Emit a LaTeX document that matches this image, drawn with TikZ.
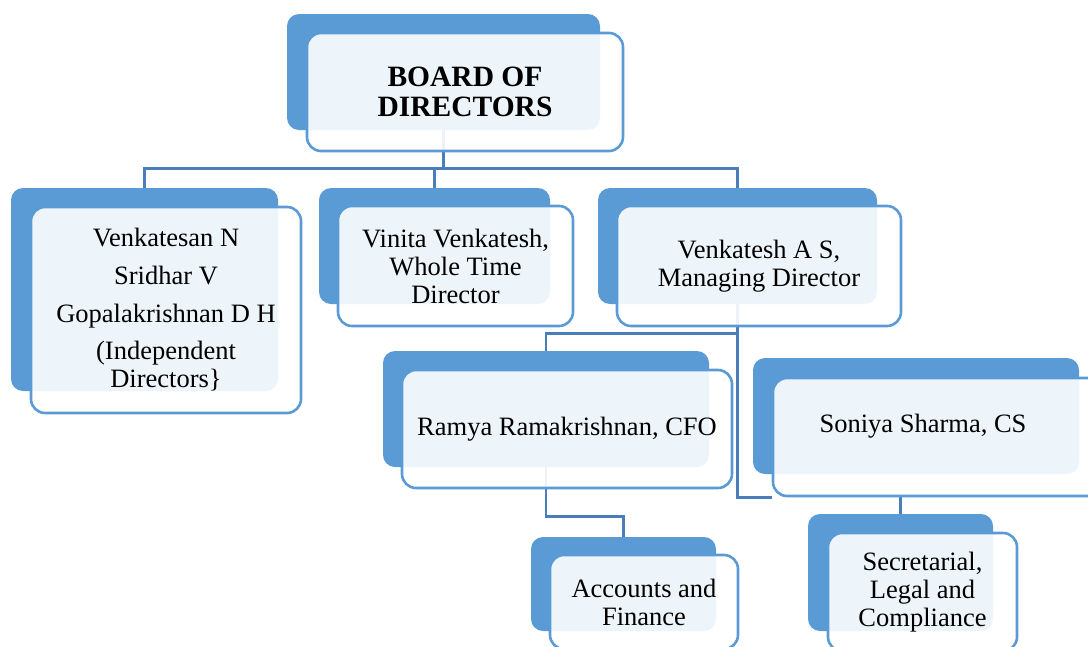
\documentclass[tikz,border=0pt]{standalone}
\usepackage{fontspec}
\setmainfont{Liberation Serif}
\usepackage{tikz}
\usetikzlibrary{backgrounds}
\definecolor{mblue}{HTML}{5B9BD5}
\definecolor{mline}{HTML}{4A7EBB}
\tikzset{back/.style = {rectangle, rounded corners=12pt, fill=mblue, inner sep=0pt},
         front/.style = {rectangle, rounded corners=14pt, draw=mblue, line width=2.6pt,
                         fill=white, fill opacity=0.9, text opacity=1, inner sep=0pt,
                         align=center, font=\fontsize{26.5}{28}\selectfont},
         conn/.style = {draw=mline, line width=2.8pt}}

\begin{document}
\begin{tikzpicture}[x=1pt, y=-1pt]
      \useasboundingbox (0, 0) rectangle (1088, 646);
      \clip (0, 0) rectangle (1088, 646);
      % top
      \node [back, minimum width=313, minimum height=116] (board-b) at (443.5, 72) {};
      \node [front, minimum width=316, minimum height=118,
             font=\fontsize{29.5}{30}\selectfont\bfseries] (board) at (465, 92) {BOARD OF\\DIRECTORS};
      % second row
      \node [back, minimum width=267, minimum height=203] (indep-b) at (144.5, 289.5) {};
      \node [front, minimum width=270, minimum height=206] (indep) at (166, 310)
            {Venkatesan N\\[10pt]Sridhar V\\[10pt]Gopalakrishnan D H\\[9pt](Independent\\Directors\}};
      \node [back, minimum width=231, minimum height=116] (wtd-b) at (434.5, 246) {};
      \node [front, minimum width=235, minimum height=120] (wtd) at (455.5, 266)
            {Vinita Venkatesh,\\Whole Time\\Director};
      \node [back, minimum width=279, minimum height=116] (md-b) at (737.5, 246) {};
      \node [front, minimum width=284, minimum height=120] (md) at (759, 266)
            {Venkatesh A S,\\Managing Director};
      % third row
      \node [back, minimum width=326, minimum height=116] (cfo-b) at (546, 409) {};
      \node [front, minimum width=330, minimum height=118] (cfo) at (567, 429)
            {Ramya Ramakrishnan, CFO};
      \node [back, minimum width=326, minimum height=116] (cs-b) at (916, 416) {};
      \node [front, minimum width=330, minimum height=118] (cs) at (938, 437) {};
      \node [font=\fontsize{26.5}{28}\selectfont, anchor=base] (cs-t) at (923, 432)
            {Soniya Sharma, CS};
      % bottom
      \node [back, minimum width=185, minimum height=94] (acc-b) at (623.5, 584) {};
      \node [front, minimum width=188, minimum height=94] (acc) at (644, 602)
            {Accounts and\\Finance};
      \node [back, minimum width=185, minimum height=117] (sec-b) at (900.5, 572.5) {};
      \node [front, minimum width=189, minimum height=118] (sec) at (922.5, 592)
            {Secretarial,\\Legal and\\Compliance};
      % connectors
      \begin{pgfonlayer}{background}
        \draw [conn] (board-b.south) -- ++(0, 38) coordinate (bar);
        \draw [conn] (indep-b.north) |- (bar) -| (md-b.north);
        \draw [conn] (wtd-b.north) -- (wtd-b.north |- bar);
        \draw [conn] (md-b.south) -- ++(0, 29) coordinate (mdbar) -| (cfo-b.north);
        \draw [conn] (mdbar) |- (cs.south west);
        \draw [conn] (cfo-b.south) -- ++(0, 49) -| (acc-b.north);
        \draw [conn] (sec-b.north) -- (sec-b.north |- cs.south);
      \end{pgfonlayer}
    \end{tikzpicture}
\end{document}
